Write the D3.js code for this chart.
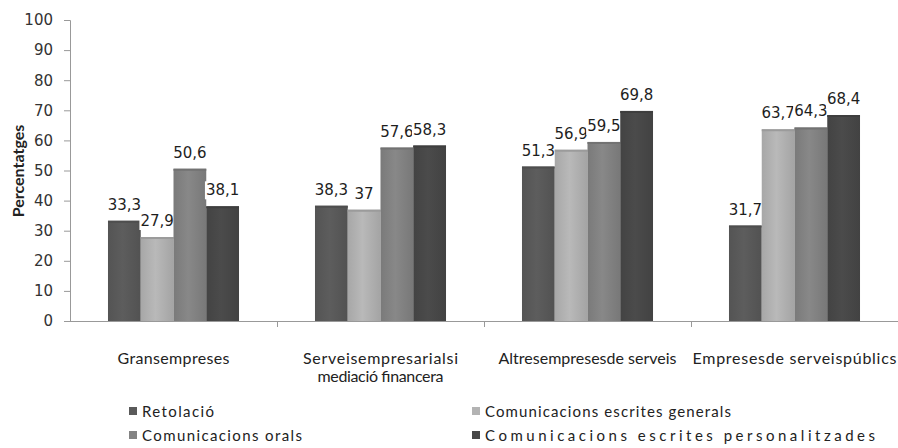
<!DOCTYPE html>
<html>
<head>
<meta charset="utf-8">
<script src="https://cdn.jsdelivr.net/npm/d3@7"></script>
<style>
  html, body { margin: 0; padding: 0; background: #fff; }
  svg { display: block; }
</style>
</head>
<body>
<svg id="chart" width="898" height="448"></svg>
<script>
// Categories (each entry is one line of the axis label)
const categories = [
  ["Gransempreses"],
  ["Serveisempresarialsi", "mediació financera"],
  ["Altresempresesde serveis"],
  ["Empresesde serveispúblics"]
];
const seriesNames = [
  "Retolació",
  "Comunicacions escrites generals",
  "Comunicacions orals",
  "Comunicacions escrites personalitzades"
];
const retolacio      = [33.3, 38.3, 51.3, 31.7];
const escritesGen    = [27.9, 37.0, 56.9, 63.7];
const orals          = [50.6, 57.6, 59.5, 64.3];
const escritesPers   = [38.1, 58.3, 69.8, 68.4];
const yTicks = [0, 10, 20, 30, 40, 50, 60, 70, 80, 90, 100];
const yTitle = "Percentatges";

const seriesValues = [retolacio, escritesGen, orals, escritesPers];

// Styling
const seriesColors = ["#5a5a5a", "#b3b3b3", "#838383", "#484848"];
// Set widths of the loosely tracked label lines (px)
const catLineWidths = [[112], [155, 126], [178], [204]];
const legendWidths = [72, 246, 160, 390];
const textFont = "Lato, 'Open Sans', sans-serif";
const numFont = "'DejaVu Sans', Verdana, sans-serif";

const svg = d3.select("#chart");
const plot = { left: 70, right: 898, top: 20, bottom: 321 };

const catKeys = categories.map(c => c.join(" "));
const x0 = d3.scaleBand().domain(catKeys).range([plot.left, plot.right]).padding(0);
const bw = x0.bandwidth();
const x1 = d3.scaleBand().domain(d3.range(seriesNames.length))
  .range([bw * 0.1835, bw * (1 - 0.1835)]).padding(0);
const y = d3.scaleLinear().domain([0, 100]).range([plot.bottom, plot.top]);

// Gradients giving the bars a soft shaded look
const defs = svg.append("defs");
seriesColors.forEach((c, i) => {
  const g = defs.append("linearGradient").attr("id", "grad" + i)
    .attr("x1", "0%").attr("x2", "100%").attr("y1", "0%").attr("y2", "0%");
  const base = d3.color(c);
  g.append("stop").attr("offset", "0%").attr("stop-color", base.darker(0.2));
  g.append("stop").attr("offset", "45%").attr("stop-color", base.brighter(0.1));
  g.append("stop").attr("offset", "100%").attr("stop-color", base.darker(0.25));
});

// Y axis
const yAxis = d3.axisLeft(y).tickValues(yTicks).tickSize(6).tickPadding(11).tickFormat(d3.format("d"));
const yG = svg.append("g").attr("transform", `translate(${plot.left},0)`).call(yAxis);
yG.select(".domain").attr("stroke", "#999");
yG.selectAll(".tick line").attr("stroke", "#999");
yG.selectAll(".tick text")
  .attr("font-family", numFont)
  .attr("font-size", 15).attr("fill", "#333");

// X axis baseline with ticks at category boundaries
svg.append("line")
  .attr("x1", plot.left).attr("x2", plot.right)
  .attr("y1", y(0) + 0.5).attr("y2", y(0) + 0.5)
  .attr("stroke", "#999");
svg.selectAll(".cat-tick").data(catKeys.slice(1)).join("line")
  .attr("class", "cat-tick")
  .attr("x1", d => Math.round(x0(d)) + 0.5).attr("x2", d => Math.round(x0(d)) + 0.5)
  .attr("y1", y(0)).attr("y2", y(0) + 6)
  .attr("stroke", "#999");

// Category labels
categories.forEach((lines, i) => {
  const cx = x0(catKeys[i]) + bw / 2;
  lines.forEach((ln, j) => {
    svg.append("text")
      .attr("x", cx).attr("y", 364 + j * 18)
      .attr("text-anchor", "middle")
      .attr("font-family", textFont)
      .attr("font-size", 16).attr("fill", "#222")
      .attr("textLength", catLineWidths[i][j])
      .attr("lengthAdjust", "spacing")
      .text(ln);
  });
});

// Y axis title
svg.append("text")
  .attr("transform", `translate(24,171) rotate(-90)`)
  .attr("text-anchor", "middle")
  .attr("font-family", textFont)
  .attr("font-weight", "bold")
  .attr("font-size", 16).attr("fill", "#222")
  .text(yTitle);

// Bars and value labels, one series at a time
const fmt = v => String(v).replace(".", ",");
seriesValues.forEach((vals, s) => {
  const g = svg.append("g");
  g.selectAll("rect.bar").data(vals).join("rect")
    .attr("class", "bar")
    .attr("x", (d, i) => x0(catKeys[i]) + x1(s))
    .attr("width", x1.bandwidth())
    .attr("y", d => y(d))
    .attr("height", d => y(0) - y(d))
    .attr("fill", `url(#grad${s})`);
  g.selectAll("line.cap").data(vals).join("line")
    .attr("class", "cap")
    .attr("x1", (d, i) => x0(catKeys[i]) + x1(s))
    .attr("x2", (d, i) => x0(catKeys[i]) + x1(s) + x1.bandwidth())
    .attr("y1", d => y(d) + 1).attr("y2", d => y(d) + 1)
    .attr("stroke", d3.color(seriesColors[s]).darker(0.4)).attr("stroke-width", 2);

  vals.forEach((v, i) => {
    const cx = x0(catKeys[i]) + x1(s) + x1.bandwidth() / 2;
    const lg = g.append("g");
    const bg = lg.append("rect").attr("fill", "#fff");
    const t = lg.append("text")
      .attr("x", cx).attr("y", y(v) - 11)
      .attr("text-anchor", "middle")
      .attr("font-family", numFont)
      .attr("font-size", 15).attr("fill", "#1e1e1e")
      .text(fmt(v));
    const b = t.node().getBBox();
    bg.attr("x", b.x - 1).attr("y", b.y).attr("width", b.width + 2).attr("height", b.height);
  });
});

// Legend (two columns, two rows)
const legendPos = [
  { x: 129, y: 417 }, { x: 472, y: 417 },
  { x: 129, y: 441 }, { x: 472, y: 441 }
];
seriesNames.forEach((name, s) => {
  const p = legendPos[s];
  const lg = svg.append("g").attr("transform", `translate(${p.x},${p.y})`);
  lg.append("rect").attr("x", 0).attr("y", -10).attr("width", 8).attr("height", 8)
    .attr("fill", seriesColors[s]);
  lg.append("text").attr("x", 13).attr("y", 0)
    .attr("font-family", textFont)
    .attr("font-size", 15).attr("fill", "#222")
    .attr("textLength", legendWidths[s])
    .attr("lengthAdjust", "spacing")
    .text(name);
});
</script>
</body>
</html>
